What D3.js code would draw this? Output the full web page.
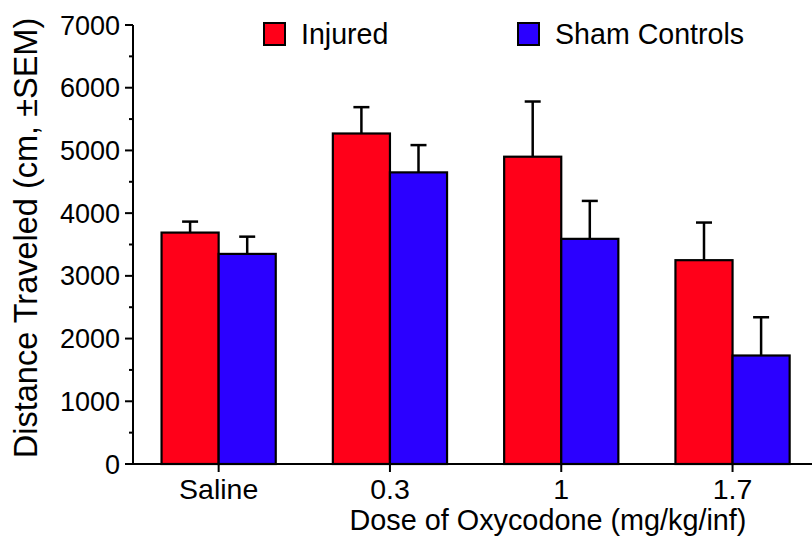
<!DOCTYPE html>
<html>
<head>
<meta charset="utf-8">
<script src="https://cdn.jsdelivr.net/npm/d3@7"></script>
<style>
  html, body { margin: 0; padding: 0; background: #fff; }
  svg { display: block; font-family: "Liberation Sans", Arial, Helvetica, sans-serif; }
</style>
</head>
<body>
<svg id="chart" width="812" height="537"></svg>
<script>
const categories = ["Saline", "0.3", "1", "1.7"];
const seriesNames = ["Injured", "Sham Controls"];
const injured = [3690, 5270, 4900, 3250];
const injuredSem = [175, 420, 880, 600];
const sham = [3350, 4650, 3590, 1730];
const shamSem = [275, 435, 605, 610];
const yTicks = [0, 1000, 2000, 3000, 4000, 5000, 6000, 7000];
const yMinorTicks = [500, 1500, 2500, 3500, 4500, 5500, 6500];
const colors = ["#ff0019", "#2b00ff"];

const svg = d3.select("#chart");
const x0 = 133, yBottom = 464, yTop = 25;

const x = d3.scaleBand().domain(categories).range([x0, x0 + 4 * 171.3])
  .paddingInner(1/3).paddingOuter(1/6);
const xs = d3.scaleBand().domain(seriesNames).range([0, x.bandwidth()]);
const y = d3.scaleLinear().domain([0, 7000]).range([yBottom, yTop]);

const rows = [];
categories.forEach((c, i) => {
  rows.push({cat: c, s: seriesNames[0], v: injured[i], e: injuredSem[i], col: colors[0]});
  rows.push({cat: c, s: seriesNames[1], v: sham[i], e: shamSem[i], col: colors[1]});
});

// error bars
const eb = svg.append("g");
rows.forEach(d => {
  const cx = x(d.cat) + xs(d.s) + xs.bandwidth() / 2;
  eb.append("line").attr("x1", cx).attr("x2", cx)
    .attr("y1", y(d.v)).attr("y2", y(d.v + d.e))
    .attr("stroke", "#000").attr("stroke-width", 2.5);
  eb.append("line").attr("x1", cx - 8).attr("x2", cx + 8)
    .attr("y1", y(d.v + d.e)).attr("y2", y(d.v + d.e))
    .attr("stroke", "#000").attr("stroke-width", 2.5);
});

// bars
svg.append("g").selectAll("rect").data(rows).join("rect")
  .attr("x", d => x(d.cat) + xs(d.s))
  .attr("y", d => y(d.v))
  .attr("width", xs.bandwidth())
  .attr("height", d => y(0) - y(d.v))
  .attr("fill", d => d.col)
  .attr("stroke", "#000")
  .attr("stroke-width", 2.2);

// y axis
const ya = svg.append("g");
ya.append("line").attr("x1", x0).attr("x2", x0).attr("y1", y(0) + 1).attr("y2", y(7000))
  .attr("stroke", "#000").attr("stroke-width", 2);
yTicks.forEach(t => {
  ya.append("line").attr("x1", x0 - 8).attr("x2", x0).attr("y1", y(t)).attr("y2", y(t))
    .attr("stroke", "#000").attr("stroke-width", 2);
  ya.append("text").attr("x", x0 - 13).attr("y", y(t) + 9.5)
    .attr("text-anchor", "end").attr("font-size", 27).attr("fill", "#000").text(t);
});
yMinorTicks.forEach(t => {
  ya.append("line").attr("x1", x0 - 4).attr("x2", x0).attr("y1", y(t)).attr("y2", y(t))
    .attr("stroke", "#000").attr("stroke-width", 2);
});

// x axis
const xa = svg.append("g");
xa.append("line").attr("x1", x0 - 1).attr("x2", 812).attr("y1", yBottom).attr("y2", yBottom)
  .attr("stroke", "#000").attr("stroke-width", 2);
categories.forEach(c => {
  const cx = x(c) + x.bandwidth() / 2;
  xa.append("line").attr("x1", cx).attr("x2", cx).attr("y1", yBottom).attr("y2", yBottom + 8)
    .attr("stroke", "#000").attr("stroke-width", 2);
  xa.append("text").attr("x", cx).attr("y", 499).attr("text-anchor", "middle")
    .attr("font-size", 28.5).attr("fill", "#000").text(c);
});

// axis titles
svg.append("text").attr("x", 548).attr("y", 530).attr("text-anchor", "middle")
  .attr("font-size", 28.8).attr("fill", "#000").text("Dose of Oxycodone (mg/kg/inf)");
svg.append("text").attr("transform", "translate(37,238) rotate(-90)")
  .attr("text-anchor", "middle").attr("font-size", 32.5).attr("fill", "#000")
  .text("Distance Traveled (cm, \u00B1SEM)");

// legend
const legX = [264, 518];
seriesNames.forEach((s, i) => {
  const g = svg.append("g");
  g.append("rect").attr("x", legX[i]).attr("y", 23).attr("width", 21).attr("height", 22)
    .attr("fill", colors[i]).attr("stroke", "#000").attr("stroke-width", 2);
  g.append("text").attr("x", legX[i] + 37).attr("y", 44).attr("font-size", 28.6)
    .attr("fill", "#000").text(s);
});
</script>
</body>
</html>
